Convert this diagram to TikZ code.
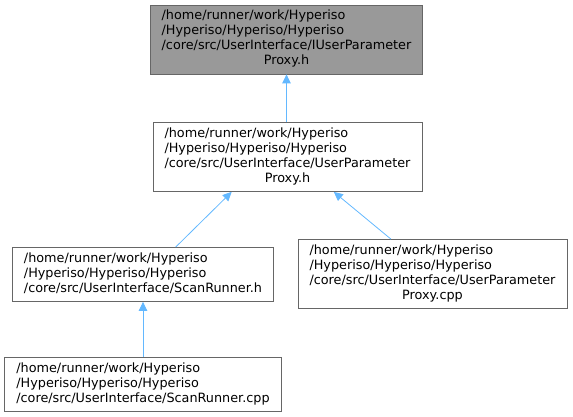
\documentclass[tikz,border=0pt]{standalone}
\usepackage{fontspec}
\setmainfont{DejaVu Sans}
\usepackage{tikz}
\usetikzlibrary{arrows.meta}
\usetikzlibrary{positioning}
\definecolor{edgeblue}{HTML}{63B8FF}
\definecolor{boxgray}{HTML}{999999}
\definecolor{rimgray}{HTML}{666666}
\tikzstyle{line} = [draw, edgeblue, line width=0.8pt, {Triangle[length=9pt,width=8.5pt]}-]

\begin{document}
\begin{tikzpicture}[x=1pt,y=-1pt,
      file/.style={draw=rimgray,
      line width=0.8pt,
      rectangle,
      fill=white,
      inner xsep=11.5pt,
      inner ysep=4.5pt,
      font=\fontsize{12.8}{15}\selectfont}]
    \useasboundingbox (0,0) rectangle (573,417);
    %% included header
    \node [file, fill=boxgray] at (286.5,39.5) (IProxy) {\begin{tabular}{@{}l@{}}/home/runner/work/Hyperiso\\/Hyperiso/Hyperiso/Hyperiso\\/core/src/UserInterface/IUserParameter\\\multicolumn{1}{@{}c@{}}{Proxy.h}\end{tabular}};
    %% includers
    \node [file] at (287.5,157) (Proxy_h) {\begin{tabular}{@{}l@{}}/home/runner/work/Hyperiso\\/Hyperiso/Hyperiso/Hyperiso\\/core/src/UserInterface/UserParameter\\\multicolumn{1}{@{}c@{}}{Proxy.h}\end{tabular}};
    \node [file] at (143,274.5) (Runner_h) {\begin{tabular}{@{}l@{}}/home/runner/work/Hyperiso\\/Hyperiso/Hyperiso/Hyperiso\\/core/src/UserInterface/ScanRunner.h\end{tabular}};
    \node [file] at (432.5,274) (Proxy_cpp) {\begin{tabular}{@{}l@{}}/home/runner/work/Hyperiso\\/Hyperiso/Hyperiso/Hyperiso\\/core/src/UserInterface/UserParameter\\\multicolumn{1}{@{}c@{}}{Proxy.cpp}\end{tabular}};
    \node [file] at (143,384) (Runner_cpp) {\begin{tabular}{@{}l@{}}/home/runner/work/Hyperiso\\/Hyperiso/Hyperiso/Hyperiso\\/core/src/UserInterface/ScanRunner.cpp\end{tabular}};
    %%
    %% Includes
    \path [line] (IProxy.south) to (IProxy.south |- Proxy_h.north);
    \path [line] (Proxy_h.212) to (Runner_h.40);
    \path [line] (Proxy_h.323) to (Proxy_cpp.140);
    \path [line] (Runner_h.south) to (Runner_cpp.north);
  \end{tikzpicture}
\end{document}
